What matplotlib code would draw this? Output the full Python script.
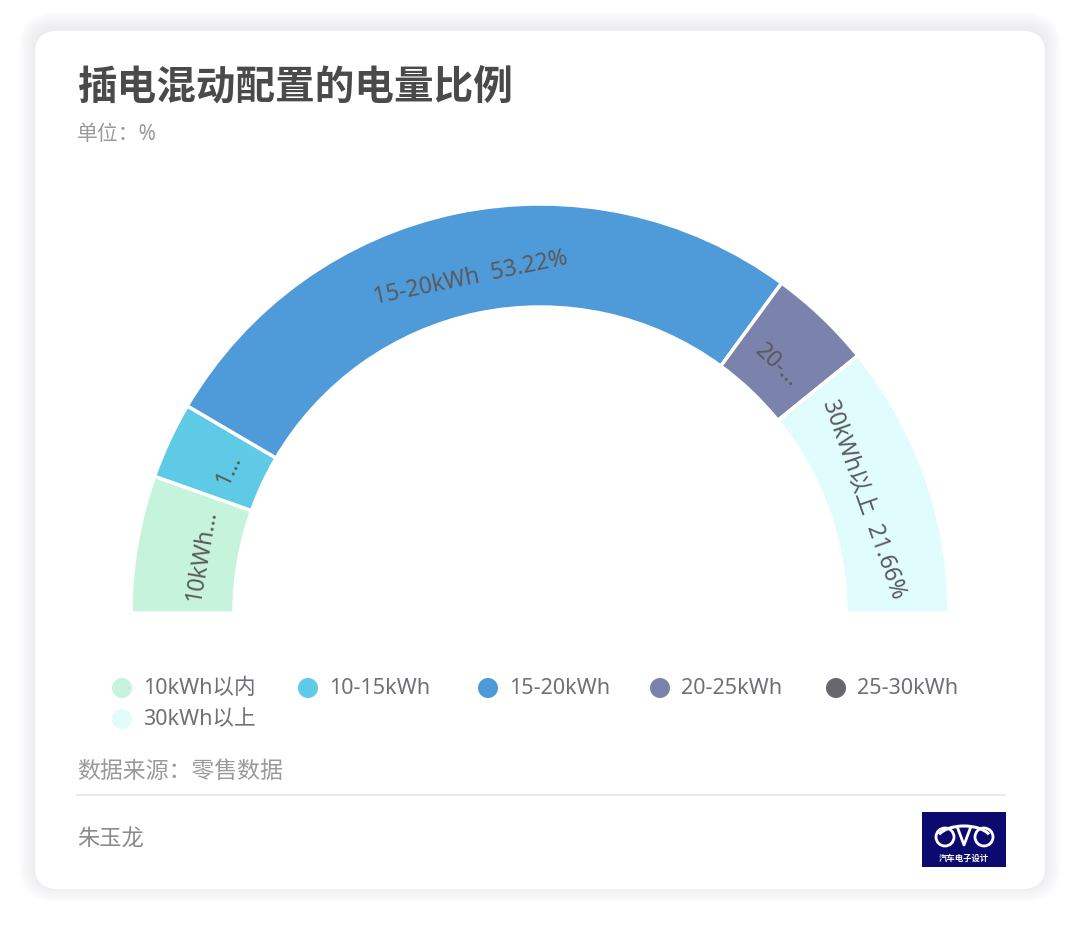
import numpy as np
import matplotlib
matplotlib.use('Agg')
import matplotlib.pyplot as plt
from matplotlib.patches import FancyBboxPatch, Rectangle, Circle, Arc

plt.rcParams['font.family'] = ['Noto Sans CJK SC', 'DejaVu Sans']
LAT = ['Noto Sans', 'Noto Sans CJK SC']  # font per testo misto latino/cinese

### Dati
categories = ['10kWh以内', '10-15kWh', '15-20kWh', '20-25kWh', '25-30kWh', '30kWh以上']
values = [10.85, 6.05, 53.22, 8.22, 0.0, 21.66]
colors = ['#c6f3dc', '#5ecae6', '#4f9ad9', '#7b83ad', '#67676d', '#e0fcfd']
# lunghezza massima etichetta (come troncata nel grafico)
label_max = [5, 1, None, 3, None, None]

W, H = 1080, 928
fig = plt.figure(figsize=(W / 100, H / 100), dpi=100)
ax = fig.add_axes([0, 0, 1, 1])

def Y(y):
    # coordinate pixel dall'alto
    return H - y

### Card con ombra
for i in range(16, 0, -1):
    ax.add_patch(FancyBboxPatch((35 - i, Y(890) - i + 3), 1010 + 2 * i, 858 + 2 * i,
                                boxstyle='round,pad=0,rounding_size=%d' % (22 + i),
                                fc='#dcdce8', ec='none', alpha=0.03, zorder=0))
ax.add_patch(FancyBboxPatch((35, Y(890)), 1010, 858,
                            boxstyle='round,pad=0,rounding_size=22',
                            fc='white', ec='none', zorder=1))

### Titoli
ax.text(77, Y(88), '插电混动配置的电量比例', fontsize=28.5, fontweight='bold',
        color='#4a4a4a', va='center', ha='left', zorder=3)
ax.text(77, Y(135), '单位：%', fontsize=15, color='#9a9a9a', va='center', ha='left',
        family=LAT, zorder=3)

### Semi-ciambella
cx, cy = 540, Y(614)
r_out, r_in = 409, 306
fracs = [v / 200 for v in values]
wedges, _ = ax.pie(fracs, normalize=False, startangle=180, counterclock=False,
                   colors=colors, radius=r_out, center=(cx, cy), frame=True,
                   wedgeprops=dict(width=r_out - r_in, edgecolor='white', linewidth=2.5))
for w in wedges:
    w.set_zorder(2)
ax.set_xlim(0, W)
ax.set_ylim(0, H)
ax.set_aspect('equal')
ax.axis('off')

# etichette lungo l'arco
ang = 180.0
rm = 343
for name, v, lm in zip(categories, values, label_max):
    span = v / 100 * 180
    mid = ang - span / 2
    ang -= span
    if v <= 0:
        continue
    txt = '%s  %.2f%%' % (name, v)
    if lm is not None:
        txt = txt[:lm] + '...'
    t = np.deg2rad(mid)
    ax.text(cx + rm * np.cos(t), cy + rm * np.sin(t), txt, rotation=mid - 90,
            rotation_mode='anchor', ha='center', va='center', fontsize=16.5,
            color='#5a5a5a', family=LAT, zorder=3)

### Legenda
leg_x = [122, 308, 488, 660, 836, 122]
leg_y = [689, 689, 689, 689, 689, 720]
for name, c, lx, ly in zip(categories, colors, leg_x, leg_y):
    ax.add_patch(Circle((lx, Y(ly)), 10, fc=c, ec='none', zorder=3))
    ax.text(lx + 21, Y(ly), name, fontsize=15.5, color='#6e7079', va='center', ha='left',
            family=LAT, zorder=3)

### Fonte
ax.text(77, Y(772), '数据来源：零售数据', fontsize=16.5, color='#9a9a9a', va='center',
        ha='left', zorder=3)
ax.plot([77, 1005], [Y(796), Y(796)], color='#e6e6e6', lw=1.2, zorder=3)
ax.text(77, Y(839), '朱玉龙', fontsize=16, color='#8a8a8a', va='center', ha='left', zorder=3)

# logo
ax.add_patch(Rectangle((922, Y(868)), 84, 55, fc='#0c0a6e', ec='none', zorder=3))
ax.add_patch(Arc((964, Y(842)), 56, 30, theta1=15, theta2=165, color='white', lw=2.2, zorder=4))
ax.add_patch(Circle((945, Y(838)), 9, fc='none', ec='white', lw=2, zorder=4))
ax.add_patch(Circle((984, Y(838)), 9, fc='none', ec='white', lw=2, zorder=4))
ax.plot([958, 964, 970], [Y(830), Y(846), Y(830)], color='white', lw=2, zorder=4)
ax.text(964, Y(858), '汽车电子设计', fontsize=6, fontweight='bold', color='white',
        ha='center', va='center', zorder=4)

plt.savefig('out.png', dpi=100)
